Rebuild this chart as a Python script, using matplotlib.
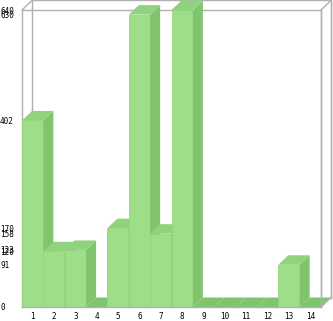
import matplotlib.pyplot as plt
from matplotlib.patches import Polygon

# data
categories = [str(i) for i in range(1, 15)]
values = [402, 120, 123, 0, 170, 630, 158, 640, 0, 0, 0, 0, 91, 0]
ytick_vals = [0, 91, 120, 123, 158, 170, 402, 630, 640]

front_col = '#9ede89'
side_col = '#80c46d'
top_col = '#8fd47c'
frame_col = '#b0b0b0'

W, H = 333, 321
fig = plt.figure(figsize=(W / 100, H / 100), dpi=100)
# front face of the box in pixels: x 22..321, y 10..307
ax = fig.add_axes([22 / W, (H - 307) / H, (321 - 22) / W, (307 - 10) / H])
n = len(values)
ymax = 640
ax.set_xlim(0, n)
ax.set_ylim(0, ymax)

# depth offset (10px right, 9.5px up) in data units
dx = 10 / (299 / n)
dy = 9.5 / (297 / ymax)

# back box + connectors
kw = dict(color=frame_col, lw=1, clip_on=False, zorder=1)
ax.plot([dx, n + dx, n + dx], [ymax + dy, ymax + dy, dy], **kw)
ax.plot([dx, dx], [dy, ymax + dy], **kw)
ax.plot([0, n, n], [ymax, ymax, 0], **kw)
ax.plot([0, 0], [0, ymax], **kw)
ax.plot([0, dx], [ymax, ymax + dy], **kw)
ax.plot([n, n + dx], [ymax, ymax + dy], **kw)

# bars, left to right
for i, v in enumerate(values):
    x0, x1 = i, i + 1
    front = Polygon([(x0, 0), (x1, 0), (x1, v), (x0, v)], closed=True,
                    fc=front_col, ec='#93d57f', lw=0.6, clip_on=False, zorder=3)
    top = Polygon([(x0, v), (x1, v), (x1 + dx, v + dy), (x0 + dx, v + dy)],
                  closed=True, fc=top_col if v > 0 else side_col, ec='none',
                  clip_on=False, zorder=3)
    side = Polygon([(x1, 0), (x1 + dx, dy), (x1 + dx, v + dy), (x1, v)],
                   closed=True, fc=side_col, ec='none', clip_on=False, zorder=3)
    ax.add_patch(front)
    ax.add_patch(side)
    ax.add_patch(top)

# front baseline and right edges on top
kw2 = dict(color=frame_col, lw=1, clip_on=False, zorder=5)
ax.plot([0, n], [0, 0], **kw2)
ax.plot([n, n], [0, ymax], **kw2)
ax.plot([n, n + dx], [0, dy], **kw2)
ax.plot([n + dx, n + dx], [dy, ymax + dy], **kw2)

for s in ax.spines.values():
    s.set_visible(False)

ax.set_xticks([i + 0.5 for i in range(n)])
ax.set_xticklabels(categories, fontsize=5.5, family='DejaVu Sans Mono')
ax.set_yticks(ytick_vals)
ax.set_yticklabels([str(t) for t in ytick_vals], fontsize=5.5, family='DejaVu Sans Mono')
ax.tick_params(axis='x', length=0, pad=3.5)
ax.tick_params(axis='y', length=0, pad=15.8)
for lab in ax.get_yticklabels():
    lab.set_ha('left')

fig.savefig('out.png', dpi=100)
